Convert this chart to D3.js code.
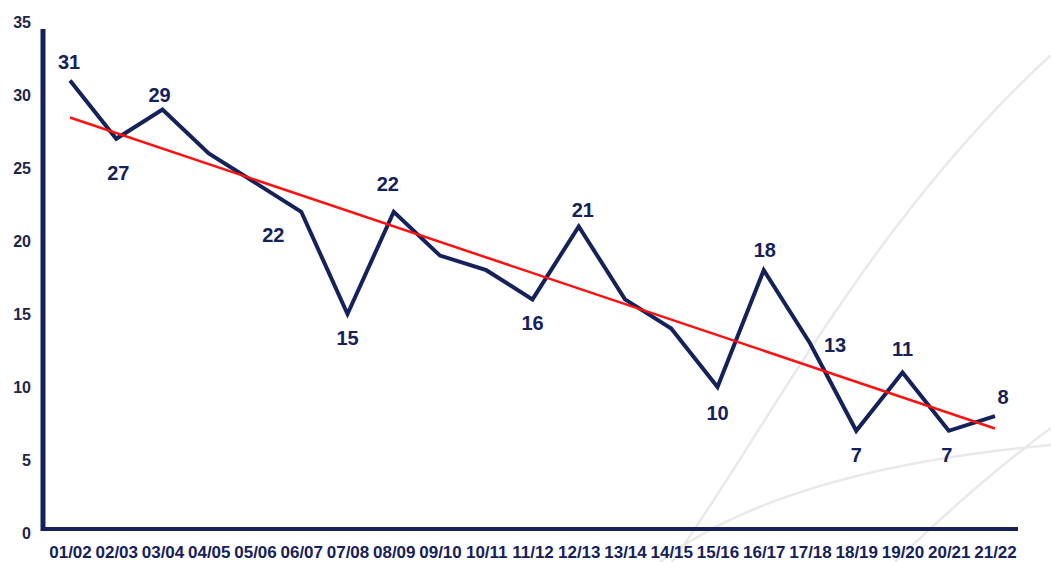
<!DOCTYPE html>
<html>
<head>
<meta charset="utf-8">
<script src="https://cdn.jsdelivr.net/npm/d3@7"></script>
<style>
  html, body { margin: 0; padding: 0; background: #ffffff; }
  svg { display: block; font-family: "Liberation Sans", Arial, sans-serif; }
</style>
</head>
<body>
<svg id="chart" width="1051" height="562"></svg>
<script>
// Seasons and yearly counts
const seasons = ["01/02","02/03","03/04","04/05","05/06","06/07","07/08","08/09","09/10","10/11",
                 "11/12","12/13","13/14","14/15","15/16","16/17","17/18","18/19","19/20","20/21","21/22"];
const counts  = [31, 27, 29, 26, 24, 22, 15, 22, 19, 18, 16, 21, 16, 14, 10, 18, 13, 7, 11, 7, 8];
const yTicks  = [0, 5, 10, 15, 20, 25, 30, 35];

// Which points carry a value label, and where the label sits relative to the point
const labelLayout = {
  "01/02": [-1, -11], "02/03": [2, 41], "03/04": [-3, -8], "06/07": [-28, 30],
  "07/08": [0, 31],   "08/09": [-6, -21], "11/12": [0, 31], "12/13": [4, -9],
  "15/16": [0, 33],   "16/17": [1, -13], "17/18": [25, 9], "18/19": [0, 31],
  "19/20": [0, -16],  "20/21": [-2, 31], "21/22": [8, -12]
};

const navy = "#15215a";
const red = "#ff1010";

const svg = d3.select("#chart");

const x = d3.scalePoint().domain(seasons).range([70, 995]);
const y = d3.scaleLinear().domain([0, 35]).range([533, 22]);

// Faint decorative swooshes in the background
const deco = svg.append("g").attr("fill", "none").attr("stroke", "#e9e9e9").attr("stroke-width", 2.5);
deco.append("path").attr("d", "M 672 562 C 760 440, 870 220, 1051 55");
deco.append("path").attr("d", "M 660 562 Q 780 470 1051 445");
deco.append("path").attr("d", "M 895 562 Q 980 480 1051 428");

// Y axis labels
const yAxis = d3.axisLeft(y).tickValues(yTicks).tickSize(0).tickPadding(0);
const gy = svg.append("g").attr("transform", "translate(31,0)").call(yAxis);
gy.select(".domain").remove();
gy.selectAll("text")
  .attr("fill", "#1e2547")
  .style("font-size", "16px")
  .style("font-weight", "bold");

// X axis labels
const xAxis = d3.axisBottom(x).tickSize(0).tickPadding(0);
const gx = svg.append("g").attr("transform", "translate(0,546)").call(xAxis);
gx.select(".domain").remove();
gx.selectAll("text")
  .attr("fill", navy)
  .attr("dy", "0.72em")
  .style("font-size", "17px")
  .style("font-weight", "bold");

// Heavy axis lines
svg.append("line")
  .attr("x1", 43).attr("x2", 43)
  .attr("y1", 29).attr("y2", y(0) - 2)
  .attr("stroke", navy).attr("stroke-width", 5);
svg.append("line")
  .attr("x1", 41).attr("x2", 1018)
  .attr("y1", y(0) - 4).attr("y2", y(0) - 4)
  .attr("stroke", navy).attr("stroke-width", 4);

// Series line
const line = d3.line()
  .x((d, i) => x(seasons[i]))
  .y(d => y(d));
svg.append("path")
  .datum(counts)
  .attr("fill", "none")
  .attr("stroke", navy)
  .attr("stroke-width", 4)
  .attr("stroke-linejoin", "miter")
  .attr("d", line);

// Least-squares trend line over the series
const n = counts.length;
const idx = d3.range(n);
const mx = d3.mean(idx), my = d3.mean(counts);
const slope = d3.sum(idx, i => (i - mx) * (counts[i] - my)) / d3.sum(idx, i => (i - mx) ** 2);
const intercept = my - slope * mx;
svg.append("line")
  .attr("x1", x(seasons[0])).attr("y1", y(intercept))
  .attr("x2", x(seasons[n - 1])).attr("y2", y(intercept + slope * (n - 1)))
  .attr("stroke", red)
  .attr("stroke-width", 2.5);

// Value labels
svg.append("g").selectAll("text")
  .data(seasons.filter(s => labelLayout[s]))
  .join("text")
  .attr("x", s => x(s) + labelLayout[s][0])
  .attr("y", s => y(counts[seasons.indexOf(s)]) + labelLayout[s][1])
  .attr("text-anchor", "middle")
  .attr("fill", navy)
  .style("font-size", "20px")
  .style("font-weight", "bold")
  .text(s => counts[seasons.indexOf(s)]);
</script>
</body>
</html>
